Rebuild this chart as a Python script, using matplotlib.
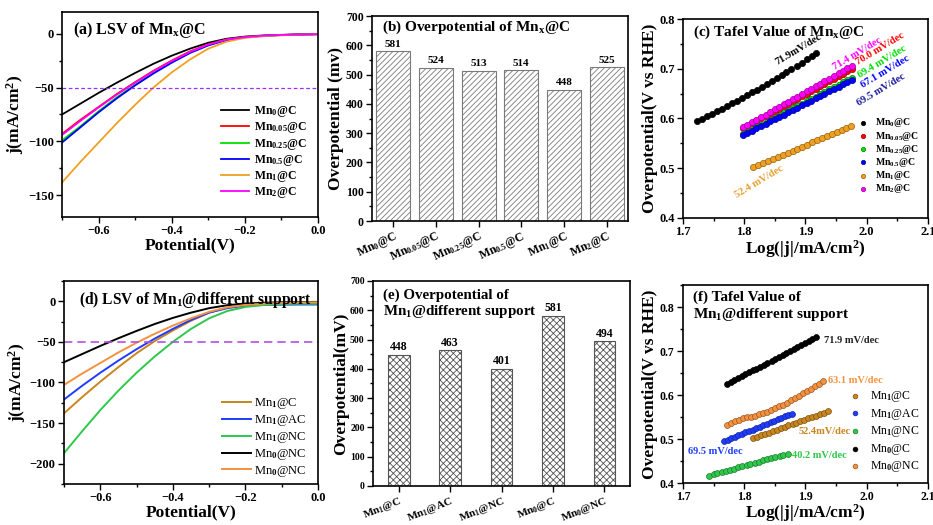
import numpy as np
import matplotlib
matplotlib.use("Agg")
import matplotlib.pyplot as plt
from matplotlib.ticker import MultipleLocator

plt.rcParams['font.family'] = ['Liberation Serif', 'DejaVu Serif']
plt.rcParams['font.weight'] = 'bold'
plt.rcParams['mathtext.fontset'] = 'custom'
plt.rcParams['mathtext.rm'] = 'Liberation Serif'
plt.rcParams['mathtext.bf'] = 'Liberation Serif:bold'
plt.rcParams['mathtext.it'] = 'Liberation Serif:italic'
plt.rcParams['mathtext.default'] = 'rm'
plt.rcParams['hatch.linewidth'] = 0.6

# ---------------- (a) LSV of Mnx@C ----------------
potential = [-0.70, -0.65, -0.60, -0.55, -0.50, -0.45, -0.40, -0.35, -0.30, -0.25, -0.20, -0.15, -0.10, -0.05, 0.00]
lsv_a_labels = [r'Mn$_\mathbf{0}$@C', r'Mn$_\mathbf{0.05}$@C', r'Mn$_\mathbf{0.25}$@C',
                r'Mn$_\mathbf{0.5}$@C', r'Mn$_\mathbf{1}$@C', r'Mn$_\mathbf{2}$@C']
lsv_a_colors = ['black', '#ff0000', '#00e000', '#0000ff', '#f0a020', '#ff00ff']
lsv_mn0 = [-75, -65, -55, -45.5, -36.5, -28, -20.5, -14, -8.5, -4.8, -2.8, -1.8, -1.2, -0.8, -0.5]
lsv_mn005 = [-93, -80, -68, -56, -45, -34.5, -25, -16.5, -10, -5.5, -3.2, -2, -1.3, -0.9, -0.6]
lsv_mn025 = [-99, -86, -72, -59, -47.5, -36.5, -26.5, -17.5, -10.5, -5.8, -3.4, -2.1, -1.3, -0.9, -0.6]
lsv_mn05 = [-101, -87, -73, -60, -48, -37, -27, -18, -11, -6, -3.5, -2.2, -1.4, -0.9, -0.6]
lsv_mn1 = [-138, -119, -101, -83, -66, -50, -36, -24, -14, -7.5, -4, -2.5, -1.6, -1, -0.6]
lsv_mn2 = [-94, -81, -68.5, -56.5, -45.5, -35, -25.5, -17, -10.2, -5.6, -3.3, -2, -1.3, -0.9, -0.6]

# ---------------- (b) overpotential of Mnx@C ----------------
bar_b_labels = [r'Mn$_\mathbf{0}$@C', r'Mn$_\mathbf{0.05}$@C', r'Mn$_\mathbf{0.25}$@C',
                r'Mn$_\mathbf{0.5}$@C', r'Mn$_\mathbf{1}$@C', r'Mn$_\mathbf{2}$@C']
bar_b_values = [581, 524, 513, 514, 448, 525]

# ---------------- (c) Tafel of Mnx@C ----------------
logj_c_mn0 = [1.723, 1.731, 1.739, 1.747, 1.756, 1.764, 1.772, 1.780, 1.788, 1.796, 1.804, 1.812, 1.821,
              1.829, 1.837, 1.845, 1.853, 1.861, 1.869, 1.877, 1.886, 1.894, 1.902, 1.910, 1.918]
eta_c_mn0 = [0.595, 0.5998, 0.6047, 0.6097, 0.6148, 0.6199, 0.6251, 0.6304, 0.6358, 0.6412, 0.6467, 0.6523, 0.658,
             0.6637, 0.6696, 0.6755, 0.6814, 0.6875, 0.6936, 0.6998, 0.7061, 0.7125, 0.7189, 0.7254, 0.732]
logj_c = [1.798, 1.805, 1.813, 1.820, 1.827, 1.835, 1.842, 1.850, 1.857, 1.865, 1.872, 1.880, 1.887,
          1.894, 1.902, 1.909, 1.917, 1.924, 1.931, 1.939, 1.946, 1.954, 1.961, 1.968, 1.976]
eta_c_mn005 = [.580, .585, .590, .595, .600, .605, .610, .615, .620, .625, .630, .635, .640,
               .645, .650, .655, .660, .665, .670, .675, .680, .685, .690, .695, .700]
eta_c_mn025 = [.568, .5728, .5775, .5823, .587, .5918, .5965, .6013, .606, .6108, .6155, .6203, .625,
               .6298, .6345, .6393, .644, .6488, .6535, .6583, .663, .6678, .6725, .6773, .682]
eta_c_mn05 = [.566, .5707, .5753, .580, .5847, .5893, .594, .5987, .6033, .608, .6127, .6173, .622,
              .6267, .6313, .636, .6407, .6453, .650, .6547, .6593, .664, .6687, .6733, .678]
eta_c_mn2 = [.582, .5872, .5923, .5975, .6027, .6078, .613, .6182, .6233, .6285, .6337, .6388, .644,
             .6492, .6543, .6595, .6647, .6698, .675, .6802, .6853, .6905, .6957, .7008, .706]
logj_c_mn1 = [1.815, 1.823, 1.831, 1.839, 1.847, 1.855, 1.863, 1.871, 1.879, 1.887, 1.895,
              1.903, 1.911, 1.919, 1.927, 1.935, 1.943, 1.951, 1.959, 1.967, 1.975]
eta_c_mn1 = [.502, .5062, .5103, .5145, .5186, .5228, .5269, .5311, .5352, .5394, .5435,
             .5477, .5518, .556, .5601, .5643, .5684, .5726, .5767, .5809, .585]
tafel_c_text = ['71.9mV/dec', '71.4 mV/dec', '70.0 mV/dec', '69.4 mV/dec', '67.1 mV/dec', '69.5 mV/dec', '52.4 mV/dec']
tafel_c_text_colors = ['black', '#ff00ff', '#ff0000', '#00dd00', '#0000ff', '#1a1a9a', '#e8a030']
tafel_c_text_pos = [(1.888, 0.738), (1.984, 0.731), (2.022, 0.741), (2.025, 0.714), (2.031, 0.695), (2.023, 0.657), (1.824, 0.472)]

# ---------------- (d) LSV of Mn1@different support ----------------
lsv_d_labels = [r'Mn$_1$@C', r'Mn$_1$@AC', r'Mn$_1$@NC', r'Mn$_0$@NC', r'Mn$_0$@NC']
lsv_d_colors = ['#c8861c', '#1f3cff', '#2ec84a', 'black', '#f5913e']
lsv_d_mn1c = [-138, -118, -99, -81, -64, -49, -36, -24, -14, -7.5, -4, -2.5, -1.6, -1, -0.6]
lsv_d_mn1ac = [-121, -104, -88, -73, -59, -46, -34, -23, -14, -8.5, -5.5, -4.5, -4.2, -4, -4]
lsv_d_mn1nc = [-187, -160, -134, -110, -88, -68, -50, -34, -21, -12, -7, -4.5, -3.5, -3, -3]
lsv_d_mn0c = [-75, -65, -55, -45.5, -36.5, -28, -20.5, -14, -8.5, -4.8, -2.8, -1.8, -1.2, -1, -1]
lsv_d_mn0nc = [-103, -89, -76, -63, -51, -40, -30, -21, -13, -7.5, -4.5, -3, -2, -1.5, -1.2]

# ---------------- (e) overpotential of Mn1@different support ----------------
bar_e_labels = [r'Mn$_\mathbf{1}$@C', r'Mn$_\mathbf{1}$@AC', r'Mn$_\mathbf{1}$@NC', r'Mn$_\mathbf{0}$@C', r'Mn$_\mathbf{0}$@NC']
bar_e_values = [448, 463, 401, 581, 494]

# ---------------- (f) Tafel of Mn1@different support ----------------
logj_f_mn1c = [1.815, 1.821, 1.828, 1.834, 1.840, 1.847, 1.853, 1.860, 1.866, 1.872,
               1.879, 1.885, 1.891, 1.898, 1.904, 1.911, 1.917, 1.923, 1.930, 1.936]
eta_f_mn1c = [.502, .5052, .5084, .5116, .5148, .5181, .5213, .5245, .5277, .5309,
              .5341, .5373, .5405, .5437, .5469, .5502, .5534, .5566, .5598, .563]
logj_f_mn1ac = [1.767, 1.773, 1.779, 1.785, 1.790, 1.796, 1.802, 1.808, 1.814, 1.820,
                1.825, 1.831, 1.837, 1.843, 1.849, 1.855, 1.860, 1.866, 1.872, 1.878]
eta_f_mn1ac = [.495, .4983, .5016, .5049, .5083, .5116, .5149, .5182, .5215, .5248,
               .5282, .5315, .5348, .5381, .5414, .5447, .5481, .5514, .5547, .558]
logj_f_mn1nc = [1.743, 1.750, 1.756, 1.763, 1.770, 1.777, 1.783, 1.790, 1.797, 1.804,
                1.810, 1.817, 1.824, 1.831, 1.837, 1.844, 1.851, 1.858, 1.864, 1.871]
eta_f_mn1nc = [.417, .4196, .4223, .4249, .4275, .4302, .4328, .4354, .4381, .4407,
               .4433, .4459, .4486, .4512, .4538, .4565, .4591, .4617, .4644, .467]
logj_f_mn0c = [1.772, 1.778, 1.784, 1.790, 1.796, 1.802, 1.808, 1.814, 1.820, 1.826, 1.832, 1.838, 1.845,
               1.851, 1.857, 1.863, 1.869, 1.875, 1.881, 1.887, 1.893, 1.899, 1.905, 1.911, 1.917]
eta_f_mn0c = [.625, .6294, .6338, .6383, .6427, .6471, .6515, .6559, .6603, .6648, .6692, .6736, .678,
              .6824, .6868, .6913, .6957, .7001, .7045, .7089, .7133, .7178, .7222, .7266, .731]
logj_f_mn0nc = [1.772, 1.779, 1.785, 1.792, 1.798, 1.805, 1.811, 1.818, 1.824, 1.831, 1.837, 1.844, 1.851,
                1.857, 1.864, 1.870, 1.877, 1.883, 1.890, 1.896, 1.903, 1.909, 1.916, 1.922, 1.929]
eta_f_mn0nc = [.532, .536, .540, .544, .548, .549, .551, .553, .556, .559, .562, .566, .570,
               .574, .578, .583, .588, .593, .598, .604, .609, .614, .620, .626, .632]
tafel_f_labels = [r'Mn$_1$@C', r'Mn$_1$@AC', r'Mn$_1$@NC', r'Mn$_0$@C', r'Mn$_0$@NC']
tafel_f_colors = ['#c8861c', '#1f3cff', '#2ec84a', 'black', '#f5913e']
tafel_f_text = ['71.9 mV/dec', '63.1 mV/dec', '52.4mV/dec', '69.5 mV/dec', '40.2 mV/dec']
tafel_f_text_colors = ['#222222', '#f5913e', '#c8861c', '#1f3cff', '#2ec84a']
tafel_f_text_pos = [(1.9295, 0.724), (1.936, 0.632), (1.889, 0.518), (1.708, 0.472), (1.878, 0.463)]


def darker(c, f=0.6):
    r, g, b = matplotlib.colors.to_rgb(c)
    return (r * f, g * f, b * f)


def style(ax, size):
    for s in ax.spines.values():
        s.set_linewidth(1.2)
    ax.tick_params(which='both', direction='out', labelsize=size, width=1.0, pad=2)
    ax.tick_params(which='major', length=4)
    ax.tick_params(which='minor', length=2)
    for t in ax.get_xticklabels() + ax.get_yticklabels():
        t.set_fontweight('bold')


fig = plt.figure(figsize=(9.33, 5.25), dpi=100)

# (a)
ax = fig.add_axes([0.0665, 0.5867, 0.2744, 0.3905])
for y, c, lab in zip([lsv_mn0, lsv_mn005, lsv_mn025, lsv_mn05, lsv_mn1, lsv_mn2], lsv_a_colors, lsv_a_labels):
    ax.plot(potential, y, color=c, lw=1.3, label=lab)
ax.axhline(-50, color='#9b30ff', lw=0.9, ls=(0, (3, 2)))
ax.set_xlim(-0.7, 0.0)
ax.set_ylim(-170, 20)
ax.xaxis.set_major_locator(MultipleLocator(0.2))
ax.xaxis.set_minor_locator(MultipleLocator(0.1))
ax.yaxis.set_major_locator(MultipleLocator(50))
ax.yaxis.set_minor_locator(MultipleLocator(25))
ax.set_xlabel('Potential(V)', fontsize=12.5, fontweight='bold', labelpad=0)
ax.set_ylabel(r'j(mA/cm$^\mathbf{2}$)', fontsize=12.5, fontweight='bold', labelpad=1)
ax.text(0.043, 0.96, r'(a) LSV of Mn$_\mathbf{x}$@C', transform=ax.transAxes, fontsize=11.5, fontweight='bold', va='top')
ax.legend(loc='lower right', frameon=False, handlelength=2.3, labelspacing=0.1, handletextpad=0.5,
          bbox_to_anchor=(1.0, 0.03), prop={'weight': 'bold', 'size': 8.5})
style(ax, 9)

# (b)
ax = fig.add_axes([0.3987, 0.579, 0.2744, 0.3905])
xb = np.arange(len(bar_b_values))
ax.bar(xb, bar_b_values, width=0.8, color='white', edgecolor='#7a7a7a', hatch='//////', lw=0.8)
for xi, v in zip(xb, bar_b_values):
    ax.text(xi, v + 8, str(v), ha='center', va='bottom', fontsize=8, fontweight='bold')
ax.set_xlim(-0.5, len(bar_b_values) - 0.5)
ax.set_ylim(0, 700)
ax.yaxis.set_major_locator(MultipleLocator(100))
ax.yaxis.set_minor_locator(MultipleLocator(50))
ax.set_xticks(xb)
ax.set_xticklabels(bar_b_labels, rotation=25, ha='right', rotation_mode='anchor')
ax.set_ylabel('Overpotential (mv)', fontsize=12.5, fontweight='bold', labelpad=1)
ax.text(0.04, 0.985, r'(b) Overpotential of Mn$_\mathbf{x}$@C', transform=ax.transAxes, fontsize=11,
        fontweight='bold', va='top')
style(ax, 8.5)

# (c)
ax = fig.add_axes([0.732, 0.5848, 0.2626, 0.379])
series_c = [(logj_c_mn0, eta_c_mn0), (logj_c, eta_c_mn005), (logj_c, eta_c_mn025),
            (logj_c, eta_c_mn05), (logj_c_mn1, eta_c_mn1), (logj_c, eta_c_mn2)]
for (xs, ys), c, lab in zip(series_c, lsv_a_colors, lsv_a_labels):
    ax.scatter(xs, ys, s=20, color=c, edgecolor=darker(c), lw=0.5, label=lab, zorder=3)
for t, c, (px, py) in zip(tafel_c_text, tafel_c_text_colors, tafel_c_text_pos):
    ax.text(px, py, t, color=c, rotation=31, ha='center', va='center', fontsize=7.5, fontweight='bold')
ax.set_xlim(1.7, 2.1)
ax.set_ylim(0.4, 0.8)
ax.xaxis.set_major_locator(MultipleLocator(0.1))
ax.xaxis.set_minor_locator(MultipleLocator(0.05))
ax.yaxis.set_major_locator(MultipleLocator(0.1))
ax.yaxis.set_minor_locator(MultipleLocator(0.05))
ax.set_xlabel(r'Log(|j|/mA/cm$^\mathbf{2}$)', fontsize=12.5, fontweight='bold', labelpad=0)
ax.set_ylabel('Overpotential(V vs RHE)', fontsize=12.5, fontweight='bold', labelpad=1)
ax.text(0.04, 0.975, r'(c) Tafel Value of Mn$_\mathbf{x}$@C', transform=ax.transAxes, fontsize=11,
        fontweight='bold', va='top')
ax.legend(loc='lower right', frameon=False, handletextpad=0.2, labelspacing=0.02, markerscale=0.7,
          bbox_to_anchor=(1.0, 0.07), prop={'weight': 'bold', 'size': 7})
style(ax, 9)

# (d)
ax = fig.add_axes([0.0686, 0.0781, 0.2722, 0.3867])
for y, c, lab in zip([lsv_d_mn1c, lsv_d_mn1ac, lsv_d_mn1nc, lsv_d_mn0c, lsv_d_mn0nc], lsv_d_colors, lsv_d_labels):
    ax.plot(potential, y, color=c, lw=1.4, label=lab)
ax.axhline(-50, color='#b050e0', lw=1.2, ls=(0, (5, 3)))
ax.set_xlim(-0.7, 0.0)
ax.set_ylim(-225, 25)
ax.xaxis.set_major_locator(MultipleLocator(0.2))
ax.xaxis.set_minor_locator(MultipleLocator(0.1))
ax.yaxis.set_major_locator(MultipleLocator(50))
ax.yaxis.set_minor_locator(MultipleLocator(25))
ax.set_xlabel('Potential(V)', fontsize=12.5, fontweight='bold', labelpad=0)
ax.set_ylabel(r'j(mA/cm$^\mathbf{2}$)', fontsize=12.5, fontweight='bold', labelpad=1)
ax.text(0.06, 0.955, r'(d) LSV of Mn$_\mathbf{1}$@different support', transform=ax.transAxes, fontsize=11.2,
        fontweight='bold', va='top')
ax.legend(loc='lower right', frameon=False, handlelength=2.3, labelspacing=0.15, handletextpad=0.3,
          bbox_to_anchor=(1.0, -0.03), prop={'weight': 'normal', 'size': 9})
style(ax, 9)

# (e)
ax = fig.add_axes([0.3998, 0.0743, 0.2755, 0.3905])
xe = np.arange(len(bar_e_values))
ax.bar(xe, bar_e_values, width=0.42, color='white', edgecolor='#555555', hatch='xxxxx', lw=0.8)
for xi, v in zip(xe, bar_e_values):
    ax.text(xi, v + 6, str(v), ha='center', va='bottom', fontsize=8.5, fontweight='bold')
ax.set_xlim(-0.5, len(bar_e_values) - 0.5)
ax.set_ylim(0, 700)
ax.yaxis.set_major_locator(MultipleLocator(100))
ax.yaxis.set_minor_locator(MultipleLocator(50))
ax.set_xticks(xe)
ax.set_xticklabels(bar_e_labels, rotation=22, ha='right', rotation_mode='anchor')
ax.set_ylabel('Overpotential(mV)', fontsize=12.5, fontweight='bold', labelpad=1)
ax.text(0.04, 0.965, '(e) Overpotential of\n' + r'Mn$_\mathbf{1}$@different support', transform=ax.transAxes,
        fontsize=10.8, fontweight='bold', va='top', linespacing=1.1)
style(ax, 7)
ax.tick_params(axis='x', labelsize=8)

# (f)
ax = fig.add_axes([0.732, 0.08, 0.2626, 0.377])
series_f = [(logj_f_mn1c, eta_f_mn1c), (logj_f_mn1ac, eta_f_mn1ac), (logj_f_mn1nc, eta_f_mn1nc),
            (logj_f_mn0c, eta_f_mn0c), (logj_f_mn0nc, eta_f_mn0nc)]
for (xs, ys), c, lab in zip(series_f, tafel_f_colors, tafel_f_labels):
    ax.scatter(xs, ys, s=18, color=c, edgecolor=darker(c), lw=0.5, label=lab, zorder=3)
for t, c, (px, py) in zip(tafel_f_text, tafel_f_text_colors, tafel_f_text_pos):
    ax.text(px, py, t, color=c, ha='left', va='center', fontsize=7.5, fontweight='bold')
ax.set_xlim(1.7, 2.1)
ax.set_ylim(0.4, 0.85)
ax.xaxis.set_major_locator(MultipleLocator(0.1))
ax.xaxis.set_minor_locator(MultipleLocator(0.05))
ax.set_yticks([0.4, 0.5, 0.6, 0.7, 0.8])
ax.yaxis.set_minor_locator(MultipleLocator(0.05))
ax.set_xlabel(r'Log(|j|/mA/cm$^\mathbf{2}$)', fontsize=12.5, fontweight='bold', labelpad=-1)
ax.set_ylabel('Overpotential(V vs RHE)', fontsize=12.5, fontweight='bold', labelpad=1)
ax.text(0.04, 0.97, '(f) Tafel Value of\n' + r'Mn$_\mathbf{1}$@different support', transform=ax.transAxes,
        fontsize=11, fontweight='bold', va='top', linespacing=1.1)
ax.legend(loc='lower right', frameon=False, handletextpad=0.3, labelspacing=0.22, markerscale=0.8,
          bbox_to_anchor=(1.01, -0.01), prop={'weight': 'normal', 'size': 8.5})
style(ax, 8.5)

fig.savefig('out.png', dpi=100)
